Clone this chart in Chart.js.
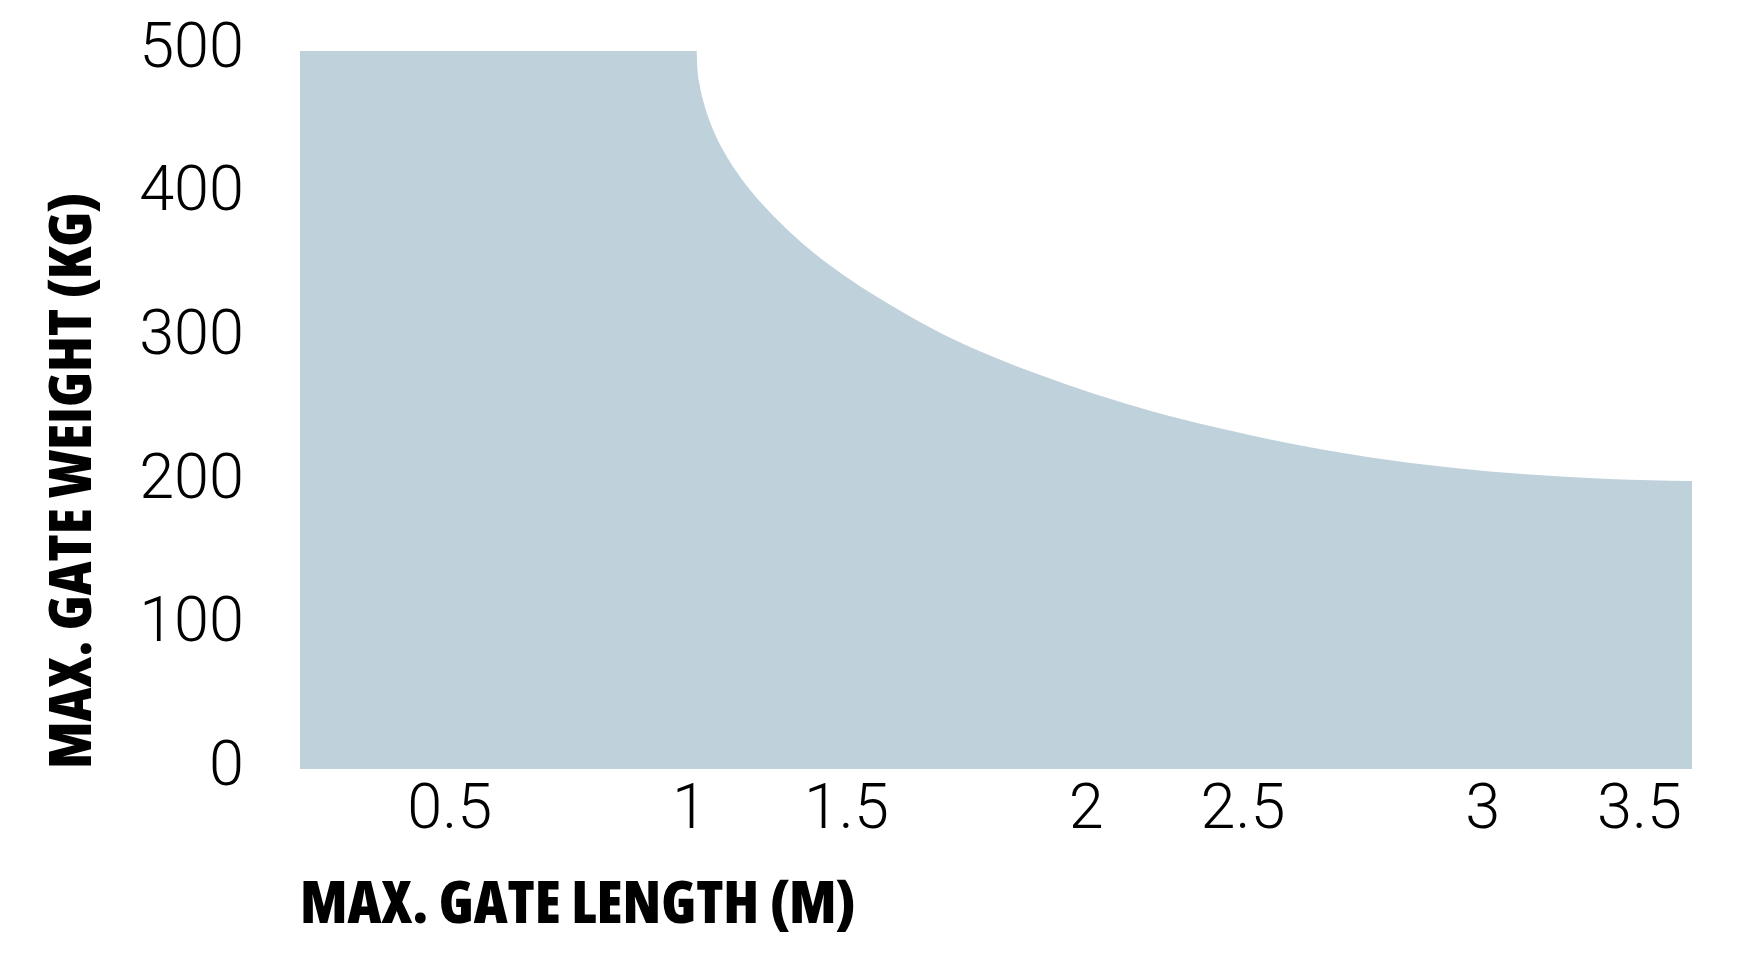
<!DOCTYPE html>
<html>
<head>
<meta charset="utf-8">
<script src="https://cdn.jsdelivr.net/npm/chart.js@4.4.1/dist/chart.umd.min.js"></script>
<style>
  html, body { margin: 0; padding: 0; background: #ffffff; }
  #wrap { width: 1753px; height: 961px; }
</style>
</head>
<body>
<div id="wrap"><canvas id="c" width="1753" height="961"></canvas></div>
<script>
// ---- data ----
const lengthM = [0, 1.0, 1.002, 1.008, 1.018, 1.032, 1.05, 1.072, 1.098, 1.13, 1.17, 1.22, 1.28, 1.35, 1.43, 1.52, 1.62, 1.74, 1.87, 2.0, 2.15, 2.3, 2.5, 2.7, 2.9, 3.1, 3.3, 3.51];
const weightKg = [500, 500, 488, 476, 464, 452, 440, 428.5, 417, 405, 392, 378, 363, 348, 333, 318, 303, 288, 274, 261.5, 249, 238.5, 226.5, 217, 210, 205, 202, 200.5];
const xTickValues = [0.5, 1, 1.5, 2, 2.5, 3, 3.5];
const xTickLabels = ['0.5', '1', '1.5', '2', '2.5', '3', '3.5'];
const yTickValues = [0, 100, 200, 300, 400, 500];
const xTitle = 'MAX. GATE LENGTH (M)';
const yTitle = 'MAX. GATE WEIGHT (KG)';

const points = lengthM.map((x, i) => ({ x: x, y: weightKg[i] }));
const labelFor = v => { const i = xTickValues.indexOf(v); return i >= 0 ? xTickLabels[i] : ''; };
const isWhole = v => Math.abs(v - Math.round(v)) < 1e-9;

const tickFont = { family: "Roboto, 'Liberation Sans', sans-serif", size: 63, weight: '300', lineHeight: 1 };
const titleFont = { family: "'Open Sans', 'DejaVu Sans', sans-serif", size: 59, weight: '800 condensed', lineHeight: 1 };

new Chart(document.getElementById('c'), {
  type: 'line',
  data: {
    datasets: [{
      data: points,
      fill: 'origin',
      backgroundColor: '#bfd1db',
      borderWidth: 0,
      borderColor: 'rgba(0,0,0,0)',
      pointRadius: 0,
      cubicInterpolationMode: 'monotone'
    }]
  },
  options: {
    responsive: false,
    animation: false,
    devicePixelRatio: 1,
    layout: { padding: { left: 44, right: 61, top: 51, bottom: 0 } },
    plugins: { legend: { display: false }, tooltip: { enabled: false } },
    scales: {
      x: {
        type: 'linear',
        position: 'bottom',
        min: 0,
        max: lengthM[lengthM.length - 1],
        grid: { display: false, drawTicks: false },
        border: { display: false },
        afterBuildTicks: s => { s.ticks = xTickValues.filter(isWhole).map(v => ({ value: v })); },
        afterFit: s => { s.height = 192; },
        ticks: {
          color: '#000',
          font: tickFont,
          padding: 12,
          labelOffset: -7,
          maxRotation: 0,
          autoSkip: false,
          callback: v => labelFor(v)
        },
        title: {
          display: true,
          text: xTitle,
          align: 'start',
          color: '#000',
          font: titleFont,
          padding: { top: 0, bottom: 25 }
        }
      },
      x2: {
        type: 'linear',
        axis: 'x',
        position: { y: 0 },
        min: 0,
        max: lengthM[lengthM.length - 1],
        grid: { display: false, drawTicks: false },
        border: { display: false },
        afterBuildTicks: s => { s.ticks = xTickValues.filter(v => !isWhole(v)).map(v => ({ value: v })); },
        afterFit: s => { s.height = 0; },
        ticks: {
          color: '#000',
          font: tickFont,
          padding: 12,
          align: 'end',
          labelOffset: -6,
          maxRotation: 0,
          autoSkip: false,
          callback: v => labelFor(v)
        }
      },
      y: {
        type: 'linear',
        min: 0,
        max: 500,
        grid: { display: false, drawTicks: false },
        border: { display: false },
        afterBuildTicks: s => { s.ticks = yTickValues.map(v => ({ value: v })); },
        afterFit: s => { s.width = 256; s.paddingTop = 0; s.paddingBottom = 0; },
        ticks: {
          color: '#000',
          font: tickFont,
          padding: 56
        },
        title: {
          display: true,
          text: yTitle,
          align: 'start',
          color: '#000',
          font: titleFont,
          padding: { top: 1, bottom: 0 }
        }
      }
    }
  }
});
</script>
</body>
</html>
